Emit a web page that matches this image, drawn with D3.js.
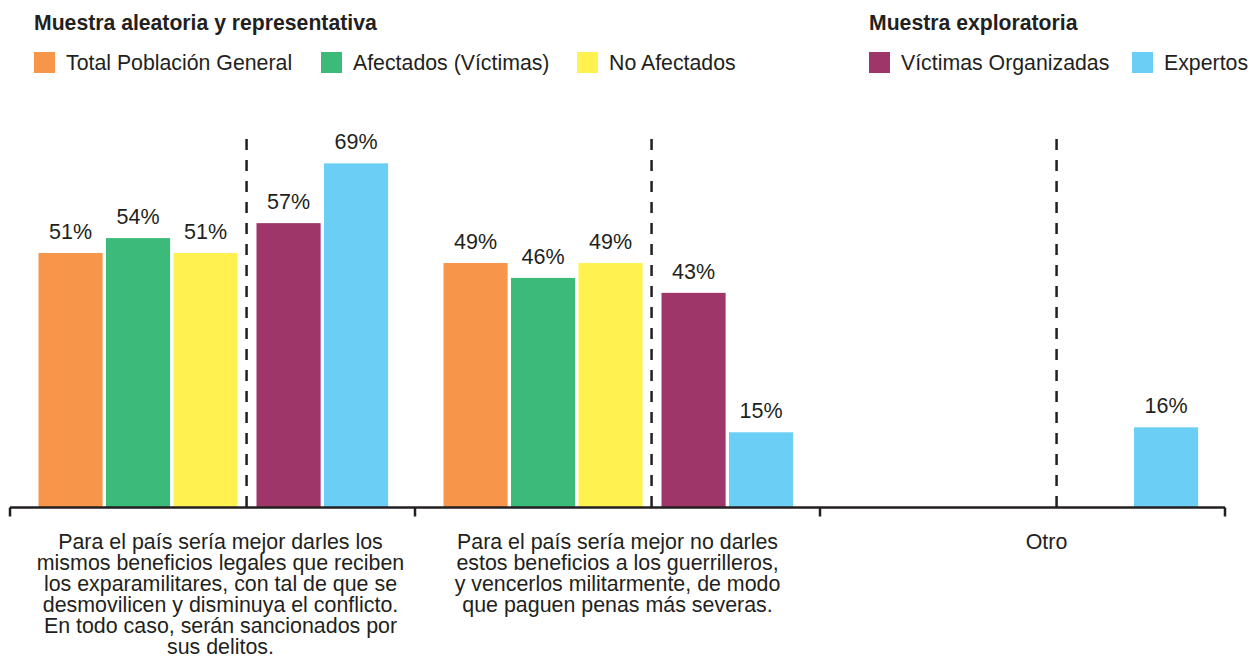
<!DOCTYPE html>
<html lang="es">
  <head>
    <meta charset="UTF-8" />
    <title>Muestra aleatoria y exploratoria</title>
    <script src="https://cdn.jsdelivr.net/npm/d3@7"></script>
    <style>
      body { margin: 0; background: #fff; }
      svg { display: block; font-family: "Liberation Sans", Arial, Helvetica, sans-serif; }
      text { fill: #231f20; }
    </style>
  </head>
  <body>
    <svg width="1250" height="657"></svg>
    <script>
      // categories (each label split in lines as in the original)
      const categories = ["mejor_beneficios", "mejor_no", "otro"];
      const categoryLines = [
        ["Para el país sería mejor darles los", "mismos beneficios legales que reciben",
         "los exparamilitares, con tal de que se", "desmovilicen y disminuya el conflicto.",
         "En todo caso, serán sancionados por", "sus delitos."],
        ["Para el país sería mejor no darles", "estos beneficios a los guerrilleros,",
         "y vencerlos militarmente, de modo", "que paguen penas más severas."],
        ["Otro"]
      ];

      const series = ["Total Población General", "Afectados (Víctimas)", "No Afectados",
                      "Víctimas Organizadas", "Expertos"];
      const seriesColors = ["#f7964a", "#3cba7a", "#fff250", "#9e3669", "#6bcef4"];
      const randomSample = ["Total Población General", "Afectados (Víctimas)", "No Afectados"];
      const exploratory = ["Víctimas Organizadas", "Expertos"];

      // values in % per category, null = no bar
      const totalPoblacion = [51, 49, null];
      const afectados = [54, 46, null];
      const noAfectados = [51, 49, null];
      const victimasOrg = [57, 43, null];
      const expertos = [69, 15, 16];
      const seriesValues = [totalPoblacion, afectados, noAfectados, victimasOrg, expertos];

      const svg = d3.select("svg");
      const color = d3.scaleOrdinal().domain(series).range(seriesColors);

      const x = d3.scaleBand().domain(categories).range([10, 1225]);
      const step = 67.5;
      const xInner = d3.scaleBand().domain(series)
        .range([28.5, 28.5 + step * 4.95]).paddingInner(0.05);
      const exploShift = 15.5;
      const subX = (s) => xInner(s) + (exploratory.includes(s) ? exploShift : 0);

      const y = d3.scaleLinear().domain([0, 100]).range([507, 9]);

      const rows = [];
      categories.forEach((c, i) => {
        series.forEach((s, j) => {
          const v = seriesValues[j][i];
          if (v != null) rows.push({ cat: c, serie: s, value: v });
        });
      });

      // dashed separators between the two samples
      const sepOffset = (xInner("No Afectados") + xInner.bandwidth() + subX("Víctimas Organizadas")) / 2;
      svg.append("g").selectAll("line").data(categories).join("line")
        .attr("x1", (d) => x(d) + sepOffset - 0.5)
        .attr("x2", (d) => x(d) + sepOffset - 0.5)
        .attr("y1", y(0))
        .attr("y2", 130)
        .attr("stroke", "#231f20")
        .attr("stroke-width", 2.5)
        .attr("stroke-dasharray", "11,10");

      // bars
      svg.append("g").selectAll("rect").data(rows).join("rect")
        .attr("x", (d) => x(d.cat) + subX(d.serie))
        .attr("y", (d) => y(d.value))
        .attr("width", xInner.bandwidth())
        .attr("height", (d) => y(0) - y(d.value))
        .attr("fill", (d) => color(d.serie));

      // value labels
      svg.append("g").selectAll("text").data(rows).join("text")
        .attr("x", (d) => x(d.cat) + subX(d.serie) + xInner.bandwidth() / 2)
        .attr("y", (d) => y(d.value) - 14)
        .attr("text-anchor", "middle")
        .attr("font-size", 21.5)
        .text((d) => d.value + "%");

      // axis with ticks at band edges
      const axis = svg.append("g").attr("transform", `translate(0,${y(0) + 0.5})`);
      axis.append("line")
        .attr("x1", 10).attr("x2", 1225)
        .attr("stroke", "#231f20").attr("stroke-width", 2.5);
      const edges = categories.map((c) => x(c)).concat([x.range()[1]]);
      axis.selectAll(".tick").data(edges).join("line")
        .attr("x1", (d) => d).attr("x2", (d) => d)
        .attr("y1", 0).attr("y2", 9)
        .attr("stroke", "#231f20").attr("stroke-width", 2.5);

      // category labels
      const labelShift = [8, 0, 24];
      const catLabels = svg.append("g").selectAll("text").data(categories).join("text")
        .attr("text-anchor", "middle")
        .attr("font-size", 21.4)
        .attr("y", 549);
      catLabels.selectAll("tspan").data((d, i) => categoryLines[i].map((l) => ({ l, i }))).join("tspan")
        .attr("x", (d) => x(categories[d.i]) + x.bandwidth() / 2 + labelShift[d.i])
        .attr("dy", (d, k) => (k === 0 ? 0 : 21))
        .text((d) => d.l);

      // legends (swatch positions as laid out in the original)
      function legend(title, items, xs) {
        const g = svg.append("g");
        g.append("text").attr("x", xs[0]).attr("y", 30)
          .attr("font-size", 21.2).attr("font-weight", "bold").text(title);
        items.forEach((s, i) => {
          g.append("rect").attr("x", xs[i]).attr("y", 52)
            .attr("width", 21).attr("height", 21).attr("fill", color(s));
          g.append("text").attr("x", xs[i] + 32).attr("y", 69.5)
            .attr("font-size", 21.3).text(s);
        });
      }
      legend("Muestra aleatoria y representativa", randomSample, [34, 321, 577]);
      legend("Muestra exploratoria", exploratory, [869, 1132]);
    </script>
  </body>
</html>
